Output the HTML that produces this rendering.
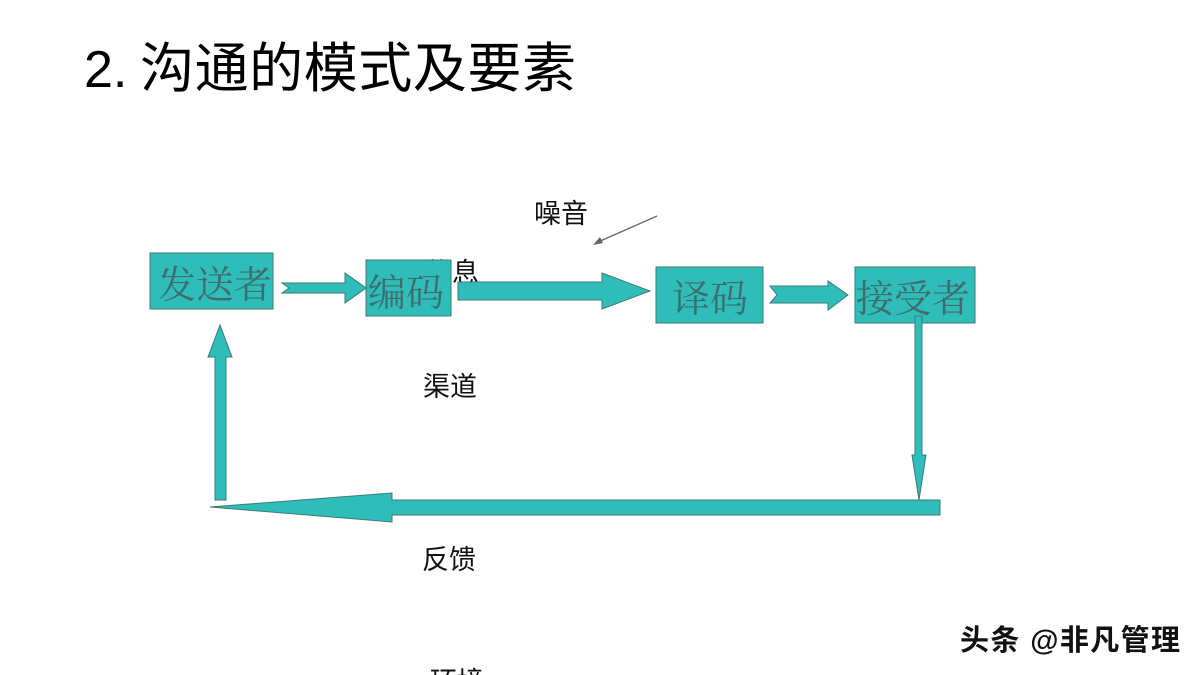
<!DOCTYPE html>
<html><head><meta charset="utf-8"><style>
html,body{margin:0;padding:0;background:#fff;width:1200px;height:675px;overflow:hidden}
svg{display:block}
</style></head><body>
<svg width="1200" height="675" viewBox="0 0 1200 675" xmlns="http://www.w3.org/2000/svg" font-family="'Liberation Sans','Noto Sans CJK SC',sans-serif">
<text x="84" y="87" font-size="52" fill="#000">2.</text>
<text x="140" y="87" font-size="54" fill="#000" textLength="436" lengthAdjust="spacing">沟通的模式及要素</text>
<text x="534" y="223" font-size="27" fill="#111">噪音</text>
<text x="425" y="282" font-size="27" fill="#111">信息</text>
<text x="423" y="396" font-size="27" fill="#111">渠道</text>
<text x="422" y="569" font-size="27" fill="#111">反馈</text>
<text x="430" y="691" font-size="27" fill="#111">环境</text>
<line x1="657" y1="216" x2="598" y2="242" stroke="#666" stroke-width="1.3"/>
<polygon points="593,245 600,237 603,243" fill="#666"/>
<g fill="#2ebdb8" stroke="#3d7a7a" stroke-width="1">
<rect x="150" y="253" width="123" height="56"/>
<rect x="366" y="260" width="85" height="56"/>
<rect x="656" y="267" width="107" height="56"/>
<rect x="855" y="267" width="120" height="56"/>
<polygon points="282,283 345,283 345,273 366,288 345,303 345,293 282,293 289,288"/>
<polygon points="458,282 602,282 602,273 650,291 602,309 602,300 458,300"/>
<polygon points="770,286 828,286 828,281 848,295 828,310 828,303 770,303 777,295"/>
<polygon points="915,316 922,316 922,455 926,455 919,500 912,455 915,455"/>
<polygon points="940,500 940,515 392,515 392,522 210,507 392,493 392,500"/>
<polygon points="215,500 226,500 226,357 232,357 220,325 208,357 215,357"/>
</g>
<g font-size="38" fill="#3f6d6e" font-family="'Noto Serif CJK SC',serif">
<text x="158" y="298">发送者</text>
<text x="368" y="306">编码</text>
<text x="672" y="312">译码</text>
<text x="856" y="312">接受者</text>
</g>
<text x="960" y="650" font-size="29" fill="#111" font-weight="bold" textLength="220" lengthAdjust="spacing">头条 @非凡管理</text>
</svg>
</body></html>
